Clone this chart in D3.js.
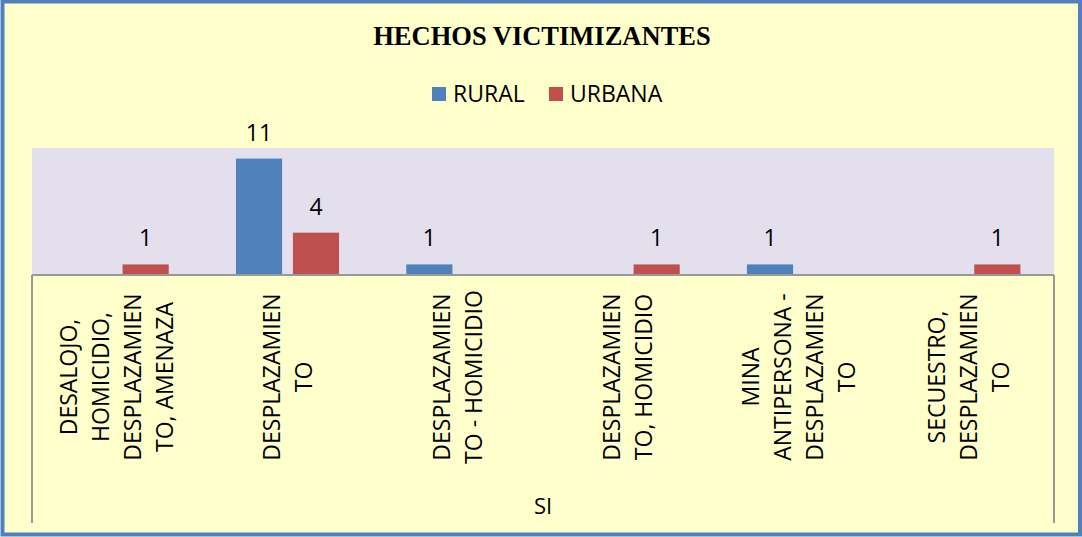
<!DOCTYPE html>
<html>
<head>
  <title>Hechos victimizantes</title>
  <meta charset="utf-8">
  <style>
    body{
      margin: 0;
      padding: 0;
      background-color: #fff;
    }
    svg{ display: block; }
    .lbl{ font-family: "Open Sans", sans-serif; fill: #000; }
  </style>
</head>
<body>
<svg class="chart"></svg>

<script src="https://d3js.org/d3.v7.min.js"></script>
<script>

// data
var categories = [
  ["DESALOJO,", "HOMICIDIO,", "DESPLAZAMIEN", "TO, AMENAZA"],
  ["DESPLAZAMIEN", "TO"],
  ["DESPLAZAMIEN", "TO - HOMICIDIO"],
  ["DESPLAZAMIEN", "TO, HOMICIDIO"],
  ["MINA", "ANTIPERSONA -", "DESPLAZAMIEN", "TO"],
  ["SECUESTRO,", "DESPLAZAMIEN", "TO"]
];
var series = ["RURAL", "URBANA"];
var rural  = [0, 11, 1, 0, 1, 0];
var urbana = [1, 4, 0, 1, 0, 1];
var groupLabel = "SI";
var title = "HECHOS VICTIMIZANTES";
var colors = ["#4F81BD", "#C0504D"];

var W = 1082, H = 537;
var plot = {left: 32, right: 1054, top: 148, bottom: 275};

var svg = d3.select(".chart")
    .attr("width", W)
    .attr("height", H);

// background + frame
svg.append("rect")
    .attr("x", 2.5).attr("y", 1.5)
    .attr("width", W - 4.5).attr("height", H - 4)
    .attr("fill", "#FFFFCC")
    .attr("stroke", "#4F81BD")
    .attr("stroke-width", 4);

var keys = categories.map(function(d, i){ return "c" + i; });

var x0 = d3.scaleBand()
    .domain(keys)
    .range([plot.left, plot.right]);

var x1 = d3.scaleBand()
    .domain(series)
    .range([0, x0.bandwidth()])
    .paddingInner(0.19)
    .paddingOuter(0.59);

var y = d3.scaleLinear()
    .domain([0, 12])
    .range([plot.bottom, plot.top]);

// plot area
svg.append("rect")
    .attr("x", plot.left).attr("y", y(12))
    .attr("width", plot.right - plot.left)
    .attr("height", y(0) - y(12))
    .attr("fill", "#E4DFEC");

// title
svg.append("text")
    .attr("x", W / 2 + 1).attr("y", 45)
    .attr("text-anchor", "middle")
    .style("font-family", "'Liberation Serif', 'Times New Roman', serif")
    .style("font-weight", "bold")
    .style("font-size", "26.5px")
    .text(title);

// legend
var legend = svg.append("g").attr("class", "legend");
var legX = [432, 549];
series.forEach(function(s, i){
  legend.append("rect")
      .attr("x", legX[i]).attr("y", 87)
      .attr("width", 14).attr("height", 14)
      .attr("fill", colors[i]);
  legend.append("text")
      .attr("class", "lbl")
      .attr("x", legX[i] + 21).attr("y", 102)
      .style("font-size", "23px")
      .text(s);
});

// bars
var table = keys.map(function(k, i){
  return {key: k, values: [
    {s: series[0], v: rural[i], c: colors[0]},
    {s: series[1], v: urbana[i], c: colors[1]}
  ]};
});

var groups = svg.selectAll(".grp")
    .data(table)
    .enter().append("g")
    .attr("class", "grp")
    .attr("transform", function(d){ return "translate(" + x0(d.key) + ",0)"; });

var nonzero = function(d){ return d.values.filter(function(v){ return v.v > 0; }); };

groups.selectAll("rect")
    .data(nonzero)
    .enter().append("rect")
    .attr("x", function(d){ return x1(d.s); })
    .attr("width", x1.bandwidth())
    .attr("y", function(d){ return y(d.v); })
    .attr("height", function(d){ return y(0) - y(d.v); })
    .attr("fill", function(d){ return d.c; });

groups.selectAll("text.val")
    .data(nonzero)
    .enter().append("text")
    .attr("class", "lbl val")
    .attr("x", function(d){ return x1(d.s) + x1.bandwidth() / 2; })
    .attr("y", function(d){ return y(d.v) - 18; })
    .attr("text-anchor", "middle")
    .style("font-size", "23px")
    .text(function(d){ return d.v; });

// axis lines
var axis = svg.append("g")
    .attr("stroke", "#999")
    .attr("stroke-width", 2);
axis.append("line")
    .attr("x1", plot.left).attr("x2", plot.right)
    .attr("y1", y(0)).attr("y2", y(0));
[plot.left, plot.right].forEach(function(xx){
  axis.append("line")
      .attr("x1", xx).attr("x2", xx)
      .attr("y1", y(0)).attr("y2", 523);
});

// category labels (rotated, multi-line)
var lineGap = 32;
groups.append("text")
    .attr("class", "lbl")
    .attr("transform", "translate(" + x0.bandwidth() / 2 + ",377) rotate(-90)")
    .attr("text-anchor", "middle")
    .style("font-size", "23px")
    .each(function(d, i){
      var lines = categories[i];
      var t = d3.select(this);
      lines.forEach(function(line, j){
        t.append("tspan")
            .attr("x", 0)
            .attr("y", (j - (lines.length - 1) / 2) * lineGap + 8)
            .text(line);
      });
    });

// group label
svg.append("text")
    .attr("class", "lbl")
    .attr("x", (plot.left + plot.right) / 2)
    .attr("y", 514)
    .attr("text-anchor", "middle")
    .style("font-size", "22px")
    .text(groupLabel);

</script>
</body>
</html>
